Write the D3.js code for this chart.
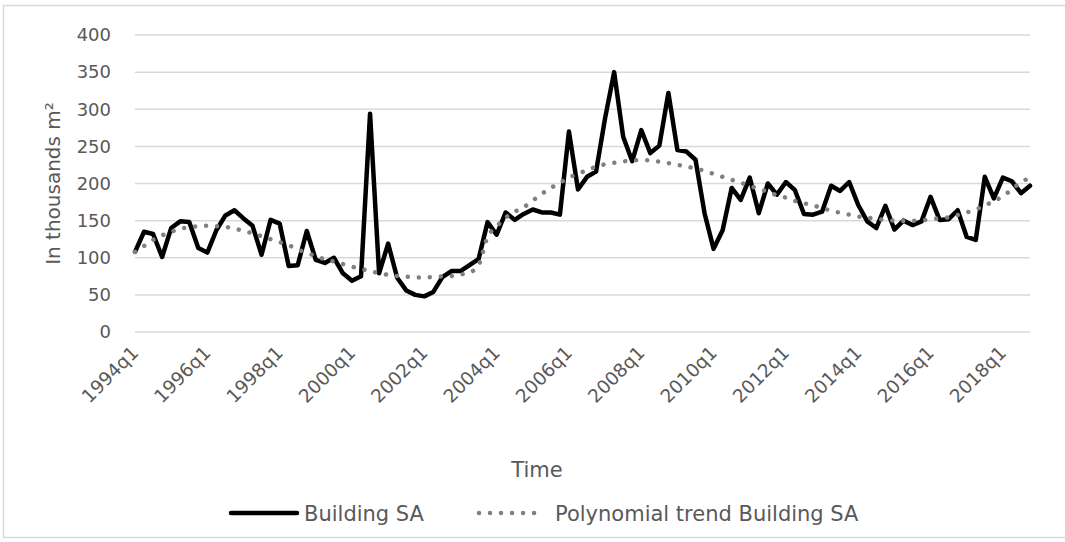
<!DOCTYPE html>
<html>
<head>
<meta charset="utf-8">
<script src="https://cdn.jsdelivr.net/npm/d3@7"></script>
<style>
  body { margin: 0; background: #fff; }
  text { font-family: Verdana, "DejaVu Sans", sans-serif; fill: #595959; }
</style>
</head>
<body>
<svg id="chart" width="1065" height="542"></svg>
<script>
// quarters 1994q1 .. 2018q4
var quarters = [];
for (var yr = 1994; yr <= 2018; yr++) {
   for (var q = 1; q <= 4; q++) quarters.push(yr + "q" + q);
}

// Building SA, thousands m2
var building = [
   108, 135, 132, 101, 140, 149, 148, 113, 107, 137,
   157, 164, 153, 143, 104, 151, 146, 89, 90, 136,
   97, 93, 100, 79, 69, 75, 294, 79, 119, 73,
   56, 50, 48, 54, 74, 82, 82, 90, 98, 148,
   131, 161, 151, 159, 165, 161, 161, 158, 270, 192,
   209, 216, 288, 350, 263, 230, 272, 241, 251, 322,
   245, 243, 232, 160, 112, 137, 194, 178, 208, 160,
   200, 185, 202, 191, 159, 158, 162, 197, 190, 202,
   171, 149, 140, 170, 138, 150, 144, 149, 182, 151,
   152, 164, 128, 124, 209, 180, 208, 203, 187, 197
];

// Polynomial trend Building SA
var trend = [
   108, 116, 124, 130, 135, 139, 141, 142.5, 143, 142.5,
   141.5, 139.5, 136, 133, 129, 125, 121, 117, 111, 107,
   102, 98, 95, 91.5, 88, 85, 82, 79.5, 77, 75.5,
   74.5, 73.6, 73.5, 74, 75, 75.5, 77.5, 80, 90, 128,
   142, 154, 162, 168, 177, 186, 194, 201, 208, 213,
   218, 222.5, 226, 228, 229.8, 231, 231.5, 231, 229.5, 227.5,
   225, 223, 220, 217, 213, 209, 205, 201, 197, 192.5,
   189, 184, 181, 176.5, 173.5, 170.5, 167, 163.4, 160.5, 158,
   155.5, 154, 152.3, 151, 150, 149.5, 149.9, 150.5, 151.8, 153.3,
   154.5, 157.5, 161, 165, 170.5, 176, 183, 192, 202, 207
];

var yTicks = [0, 50, 100, 150, 200, 250, 300, 350, 400];
var xTicks = quarters.filter(function (d, i) { return i % 8 === 0; });

var svg = d3.select("svg#chart");

// plot area (note: "top" clashes with window.top)
var plotL = 135, plotR = 1030, plotT = 35, plotB = 332;

var x = d3.scalePoint().domain(quarters).range([plotL, plotR]);
var y = d3.scaleLinear().domain([0, 400]).range([plotB, plotT]);

// outer border
svg.append("rect")
   .attr("x", 3.5).attr("y", 5.5)
   .attr("width", 1080).attr("height", 532)
   .attr("fill", "none")
   .attr("stroke", "#d9d9d9")
   .attr("stroke-width", 1.5);

// gridlines
svg.append("g")
   .selectAll("line")
   .data(yTicks)
   .enter()
   .append("line")
   .attr("x1", plotL).attr("x2", plotR)
   .attr("y1", function (d) { return y(d); })
   .attr("y2", function (d) { return y(d); })
   .attr("stroke", "#d9d9d9")
   .attr("stroke-width", 1.5);

// y axis
var yAxis = svg.append("g")
   .attr("transform", "translate(" + plotL + ",0)")
   .call(d3.axisLeft(y).tickValues(yTicks).tickSize(0).tickPadding(24));
yAxis.select(".domain").remove();
yAxis.selectAll("text")
   .style("font-size", "18px")
   .style("font-family", "Verdana, 'DejaVu Sans', sans-serif")
   .attr("fill", "#595959");

// x axis
var xAxis = svg.append("g")
   .attr("transform", "translate(0," + plotB + ")")
   .call(d3.axisBottom(x).tickValues(xTicks).tickSize(0));
xAxis.select(".domain").remove();
xAxis.selectAll("text")
   .style("font-size", "18.5px")
   .style("font-family", "Verdana, 'DejaVu Sans', sans-serif")
   .attr("fill", "#595959")
   .attr("text-anchor", "end")
   .attr("dy", null)
   .attr("y", 0)
   .attr("transform", "translate(4,22) rotate(-45)");

// axis titles
svg.append("text")
   .attr("transform", "translate(60," + (plotT + plotB) / 2 + ") rotate(-90)")
   .attr("text-anchor", "middle")
   .style("font-size", "20px")
   .text("In thousands m\u00b2");

svg.append("text")
   .attr("x", 537).attr("y", 477)
   .attr("text-anchor", "middle")
   .style("font-size", "21px")
   .text("Time");

// series
var line = d3.line()
   .x(function (d, i) { return x(quarters[i]); })
   .y(function (d) { return y(d); });

svg.append("path")
   .datum(building)
   .attr("d", line)
   .attr("fill", "none")
   .attr("stroke", "#000")
   .attr("stroke-width", 4.5)
   .attr("stroke-linejoin", "round")
   .attr("stroke-linecap", "round");

svg.append("path")
   .datum(trend)
   .attr("d", line.curve(d3.curveMonotoneX))
   .attr("fill", "none")
   .attr("stroke", "#808080")
   .attr("stroke-width", 4.5)
   .attr("stroke-linecap", "round")
   .attr("stroke-dasharray", "0.01 11");

// legend
var legY = 513;
svg.append("line")
   .attr("x1", 231).attr("x2", 297)
   .attr("y1", legY).attr("y2", legY)
   .attr("stroke", "#000").attr("stroke-width", 4.5)
   .attr("stroke-linecap", "round");
svg.append("text")
   .attr("x", 304).attr("y", legY + 8)
   .style("font-size", "21px")
   .text("Building SA");

svg.append("line")
   .attr("x1", 479).attr("x2", 541)
   .attr("y1", legY).attr("y2", legY)
   .attr("stroke", "#808080").attr("stroke-width", 4.5)
   .attr("stroke-linecap", "round")
   .attr("stroke-dasharray", "0.01 11");
svg.append("text")
   .attr("x", 555).attr("y", legY + 8)
   .style("font-size", "21px")
   .text("Polynomial trend Building SA");
</script>
</body>
</html>
